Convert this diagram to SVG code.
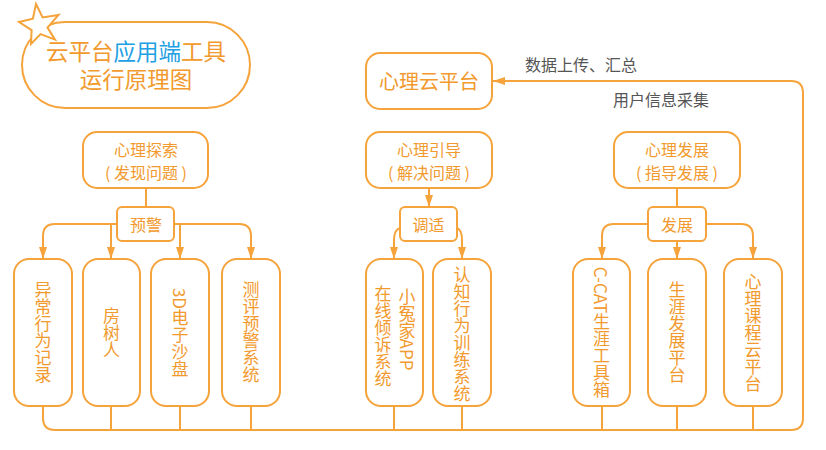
<svg xmlns="http://www.w3.org/2000/svg" width="826" height="450" viewBox="0 0 826 450">
<defs>
<style>
.box{fill:#fff;stroke:#F5A33A;stroke-width:2}
.ln{fill:none;stroke:#F5A33A;stroke-width:2}
.t{font-family:"Noto Sans CJK SC","Noto Sans",sans-serif;fill:#F29A2E;text-anchor:middle}
.g{font-family:"Noto Sans CJK SC","Noto Sans",sans-serif;fill:#555;font-size:16px}
.v{font-family:"Noto Sans CJK SC","Noto Sans",sans-serif;fill:#F29A2E;text-anchor:middle;writing-mode:vertical-rl;font-size:17px}
</style>
<marker id="ah" viewBox="0 0 12 8" refX="12" refY="4" markerWidth="12" markerHeight="8" markerUnits="userSpaceOnUse" orient="auto">
<path d="M0,0 L12,4 L0,8 Z" fill="#F5A33A"/>
</marker>
</defs>
<rect width="826" height="450" fill="#fff"/>

<g id="connectors">
<line class="ln" x1="146" y1="188" x2="146" y2="207"/>
<path class="ln" d="M117,224 L55,224 Q43,224 43,236 L43,259" marker-end="url(#ah)"/>
<path class="ln" d="M111,224 L111,259" marker-end="url(#ah)"/>
<path class="ln" d="M180,224 L180,259" marker-end="url(#ah)"/>
<path class="ln" d="M174,224 L239,224 Q251,224 251,236 L251,259" marker-end="url(#ah)"/>
<line class="ln" x1="429" y1="188" x2="429" y2="207" marker-end="url(#ah)"/>
<path class="ln" d="M400,228 Q394,230 394,240 L394,259" marker-end="url(#ah)"/>
<path class="ln" d="M457,228 Q462,230 462,240 L462,259" marker-end="url(#ah)"/>
<line class="ln" x1="677" y1="188" x2="677" y2="207"/>
<path class="ln" d="M648,224 L614,224 Q602,224 602,236 L602,259" marker-end="url(#ah)"/>
<path class="ln" d="M677,241 L677,259" marker-end="url(#ah)"/>
<path class="ln" d="M706,224 L741,224 Q753,224 753,236 L753,259" marker-end="url(#ah)"/>
<path class="ln" d="M43,406 L43,418 Q43,430 55,430 L791,430 Q803,430 803,418 L803,93 Q803,81 791,81 L493,81" marker-end="url(#ah)"/>
<line class="ln" x1="111" y1="406" x2="111" y2="430"/>
<line class="ln" x1="180" y1="406" x2="180" y2="430"/>
<line class="ln" x1="251" y1="406" x2="251" y2="430"/>
<line class="ln" x1="394" y1="406" x2="394" y2="430"/>
<line class="ln" x1="462" y1="406" x2="462" y2="430"/>
<line class="ln" x1="602" y1="406" x2="602" y2="430"/>
<line class="ln" x1="677" y1="406" x2="677" y2="430"/>
<line class="ln" x1="753" y1="406" x2="753" y2="430"/>
<text class="g" x="525" y="71">数据上传、汇总</text>
<text class="g" x="613" y="106">用户信息采集</text>
</g>

<g id="title">
<rect class="box" x="22" y="22" width="228" height="86" rx="43"/>
<polygon class="box" points="36,4 42.6,17.4 58.5,15 47.5,27.6 55,39.6 40.6,34.1 31,44 31.6,30.1 19,22 32.9,18.6"/>
<text class="t" x="136" y="59.5" font-size="22.5">云平台<tspan fill="#21A0E3">应用端</tspan>工具</text>
<text class="t" x="136" y="88" font-size="22.5">运行原理图</text>
</g>

<g id="cloud">
<rect class="box" x="366" y="53" width="126" height="56" rx="14"/>
<text class="t" x="429" y="89" font-size="20">心理云平台</text>
</g>

<g id="explore">
<rect class="box" x="83" y="132" width="125" height="56" rx="14"/>
<text class="t" x="146" y="156" font-size="16">心理探索</text>
<text class="t" x="146" y="179" font-size="16" xml:space="preserve">( 发现问题 )</text>
</g>
<g id="warn">
<rect class="box" x="117" y="207" width="57" height="34" rx="5"/>
<text class="t" x="146" y="231" font-size="16">预警</text>
</g>

<g id="guide">
<rect class="box" x="366" y="132" width="126" height="56" rx="14"/>
<text class="t" x="429" y="156" font-size="16">心理引导</text>
<text class="t" x="429" y="179" font-size="16" xml:space="preserve">( 解决问题 )</text>
</g>
<g id="adjust">
<rect class="box" x="400" y="207" width="57" height="34" rx="5"/>
<text class="t" x="428.5" y="231" font-size="16">调适</text>
</g>

<g id="develop">
<rect class="box" x="614" y="132" width="126" height="56" rx="14"/>
<text class="t" x="677" y="156" font-size="16">心理发展</text>
<text class="t" x="677" y="179" font-size="16" xml:space="preserve">( 指导发展 )</text>
</g>
<g id="dev">
<rect class="box" x="648" y="207" width="58" height="34" rx="5"/>
<text class="t" x="677" y="231" font-size="16">发展</text>
</g>

<g id="leaf1">
<rect class="box" x="14" y="259" width="58" height="147" rx="15"/>
<text class="v" x="43" y="332.5">异常行为记录</text>
</g>
<g id="leaf2">
<rect class="box" x="83" y="259" width="57" height="147" rx="15"/>
<text class="v" x="111.5" y="332.5">房树人</text>
</g>
<g id="leaf3">
<rect class="box" x="151" y="259" width="58" height="147" rx="15"/>
<text class="v" x="180" y="332.5">3D电子沙盘</text>
</g>
<g id="leaf4">
<rect class="box" x="222" y="259" width="58" height="147" rx="15"/>
<text class="v" x="251" y="332.5">测评预警系统</text>
</g>
<g id="leaf5">
<rect class="box" x="366" y="259" width="57" height="147" rx="15"/>
<text class="v" x="407" y="329">小冤家APP</text>
<text class="v" x="383" y="336.5">在线倾诉系统</text>
</g>
<g id="leaf6">
<rect class="box" x="433" y="259" width="58" height="147" rx="15"/>
<text class="v" x="462" y="334.5" font-size="16">认知行为训练系统</text>
</g>
<g id="leaf7">
<rect class="box" x="573" y="259" width="57" height="147" rx="15"/>
<text class="v" x="601.5" y="332.5">C-CAT生涯工具箱</text>
</g>
<g id="leaf8">
<rect class="box" x="648" y="259" width="58" height="147" rx="15"/>
<text class="v" x="677" y="332.5">生涯发展平台</text>
</g>
<g id="leaf9">
<rect class="box" x="724" y="259" width="58" height="147" rx="15"/>
<text class="v" x="753" y="332.5">心理课程云平台</text>
</g>
</svg>
